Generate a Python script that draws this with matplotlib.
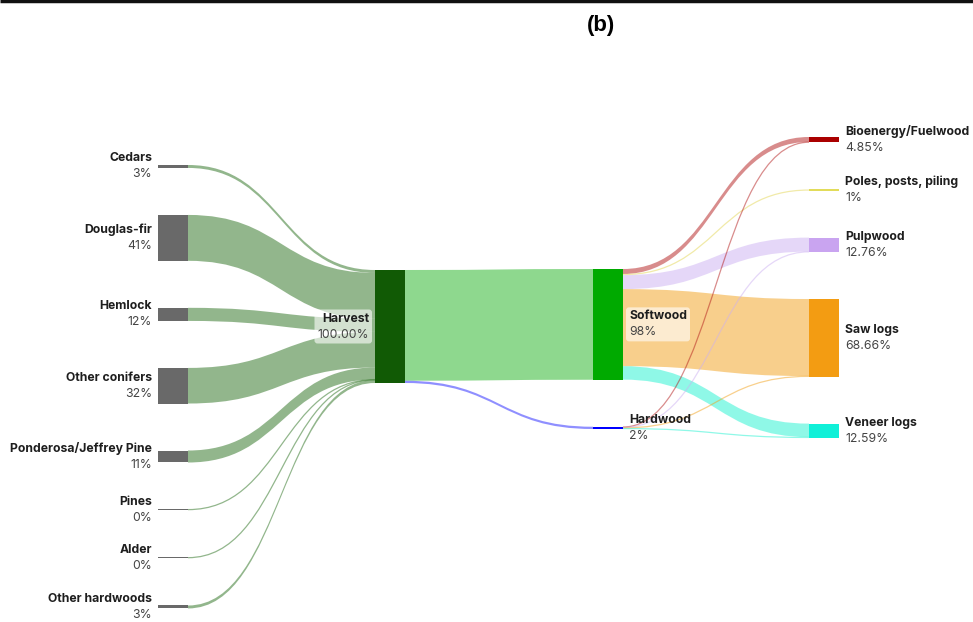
import matplotlib
matplotlib.use("Agg")
import matplotlib.pyplot as plt
from matplotlib.path import Path
from matplotlib.patches import PathPatch, Rectangle, FancyBboxPatch

# ---- data ----
sources = ["Cedars", "Douglas-fir", "Hemlock", "Other conifers",
           "Ponderosa/Jeffrey Pine", "Pines", "Alder", "Other hardwoods"]
source_vals = [2.6, 40.6, 11.6, 31.5, 10.6, 0.2, 0.3, 2.6]
source_pct = ["3%", "41%", "12%", "32%", "11%", "0%", "0%", "3%"]

harvest_pct = "100.00%"
wood_types = ["Softwood", "Hardwood"]
wood_vals = [98.0, 2.0]
wood_pct = ["98%", "2%"]

products = ["Bioenergy/Fuelwood", "Poles, posts, piling", "Pulpwood",
            "Saw logs", "Veneer logs"]
softwood_to = [4.4, 1.0, 12.4, 68.2, 11.9]
hardwood_to = [0.45, 0.0, 0.36, 0.46, 0.69]
product_pct = ["4.85%", "1%", "12.76%", "68.66%", "12.59%"]

# ---- styling / layout ----
SCALE = 1.13      # px per unit
GAP = 47          # px between nodes in a column
NODE_W = 30
col_x = [158, 375, 593, 809]
col_top = [165, 270, 269, 137]

node_colors = {"Harvest": "#115a05", "Softwood": "#00aa00", "Hardwood": "#0000ff",
               "Bioenergy/Fuelwood": "#aa0000", "Poles, posts, piling": "#e2dc5a",
               "Pulpwood": "#c9a4f0", "Saw logs": "#f39c12", "Veneer logs": "#10f0d8"}
for s in sources:
    node_colors[s] = "#696969"
link_colors = {"Harvest": (0.15, 0.43, 0.10, 0.5),
               "Softwood": (0.12, 0.70, 0.12, 0.5),
               "Hardwood": (0.13, 0.13, 1.0, 0.5),
               "Bioenergy/Fuelwood": (0.70, 0.10, 0.10, 0.5),
               "Poles, posts, piling": (0.88, 0.82, 0.25, 0.45),
               "Pulpwood": (0.80, 0.69, 0.95, 0.5),
               "Saw logs": (0.95, 0.63, 0.10, 0.5),
               "Veneer logs": (0.13, 0.95, 0.82, 0.5)}

# links (source, target, value); colour follows the target node
links = [(s, "Harvest", v) for s, v in zip(sources, source_vals)]
links += [("Harvest", w, v) for w, v in zip(wood_types, wood_vals)]
links += [("Softwood", p, v) for p, v in zip(products, softwood_to) if v > 0]
links += [("Hardwood", p, v) for p, v in zip(products, hardwood_to) if v > 0]

columns = [sources, ["Harvest"], wood_types, products]

# node values = max(in, out)
node_val = {}
for col in columns:
    for n in col:
        vin = sum(v for s, t, v in links if t == n)
        vout = sum(v for s, t, v in links if s == n)
        node_val[n] = max(vin, vout)

nodes = {}
for ci, col in enumerate(columns):
    y = col_top[ci]
    for n in col:
        h = max(node_val[n] * SCALE, 1.0)
        nodes[n] = (col_x[ci], y, h)
        y += h + GAP


def center(n):
    return nodes[n][1] + nodes[n][2] / 2


def band(ax, x0, y0a, y0b, x1, y1a, y1b, color):
    xm = (x0 + x1) / 2
    if (y0b - y0a) < 1.5:
        # hairline link: draw the centre curve only
        ym0, ym1 = (y0a + y0b) / 2, (y1a + y1b) / 2
        p = Path([(x0, ym0), (xm, ym0), (xm, ym1), (x1, ym1)],
                 [Path.MOVETO, Path.CURVE4, Path.CURVE4, Path.CURVE4])
        ax.add_patch(PathPatch(p, fc="none", ec=color, lw=0.9))
        return
    verts = [(x0, y0a), (xm, y0a), (xm, y1a), (x1, y1a), (x1, y1b),
             (xm, y1b), (xm, y0b), (x0, y0b), (x0, y0a)]
    codes = [Path.MOVETO, Path.CURVE4, Path.CURVE4, Path.CURVE4, Path.LINETO,
             Path.CURVE4, Path.CURVE4, Path.CURVE4, Path.CLOSEPOLY]
    ax.add_patch(PathPatch(Path(verts, codes), fc=color, ec="none"))


fig = plt.figure(figsize=(9.73, 6.22), dpi=100)
ax = fig.add_axes([0, 0, 1, 1])
ax.set_xlim(0, 973)
ax.set_ylim(622, 0)
ax.axis("off")

# link offsets, sorted by the other end's position
out_off = {n: nodes[n][1] for n in nodes}
in_off = {n: nodes[n][1] for n in nodes}
link_geo = []
for n in nodes:
    outs = sorted([l for l in links if l[0] == n], key=lambda l: center(l[1]))
    for l in outs:
        h = l[2] * SCALE
        link_geo.append([l, out_off[n], out_off[n] + h])
        out_off[n] += h
geo_in = {}
for n in nodes:
    ins = sorted([l for l in links if l[1] == n], key=lambda l: center(l[0]))
    for l in ins:
        h = l[2] * SCALE
        geo_in[l] = (in_off[n], in_off[n] + h)
        in_off[n] += h

for l, ya, yb in link_geo:
    s, t, v = l
    x0 = nodes[s][0] + NODE_W
    x1 = nodes[t][0]
    y1a, y1b = geo_in[l]
    band(ax, x0, ya, yb, x1, y1a, y1b, link_colors[t])

for n, (x, y, h) in nodes.items():
    ax.add_patch(Rectangle((x, y), NODE_W, h, fc=node_colors[n], ec="none"))

FONT = ["Inter", "DejaVu Sans"]
FS = 8.8
boxed = []


def label(n, pct, side, box=False):
    x, y, h = nodes[n]
    cy = y + h / 2
    if side == "left":
        tx, ha = x - 6, "right"
    else:
        tx, ha = x + NODE_W + 6, "left"
    t1 = ax.text(tx, cy - 8, n, ha=ha, va="center", fontsize=FS,
                 fontweight="bold", color="#1e1e1e", family=FONT, zorder=5)
    t2 = ax.text(tx, cy + 8, pct, ha=ha, va="center", fontsize=FS,
                 color="#444444", family=FONT, zorder=5)
    if box:
        boxed.append((t1, t2))


for s, p in zip(sources, source_pct):
    label(s, p, "left")
label("Harvest", harvest_pct, "left", box=True)
label("Softwood", wood_pct[0], "right", box=True)
label("Hardwood", wood_pct[1], "right")
for p, pc in zip(products, product_pct):
    label(p, pc, "right")

# translucent rounded boxes behind the boxed labels
renderer = fig.canvas.get_renderer()
inv = ax.transData.inverted()
for t1, t2 in boxed:
    b1 = t1.get_window_extent(renderer)
    b2 = t2.get_window_extent(renderer)
    (xa, ya), (xb, yb) = inv.transform([(min(b1.x0, b2.x0), min(b1.y0, b2.y0)),
                                        (max(b1.x1, b2.x1), max(b1.y1, b2.y1))])
    x0, x1 = min(xa, xb), max(xa, xb)
    y0, y1 = min(ya, yb), max(ya, yb)
    ax.add_patch(FancyBboxPatch((x0, y0), x1 - x0, y1 - y0,
                                boxstyle="round,pad=3,rounding_size=3",
                                fc="white", ec="none", alpha=0.6, zorder=4))

ax.plot([0, 973], [1, 1], color="#111111", lw=2.5, solid_capstyle="butt")
ax.text(601, 25, "(b)", ha="center", va="center", fontsize=16,
        fontweight="bold", family="Liberation Sans")

fig.savefig("out.png", dpi=100)
